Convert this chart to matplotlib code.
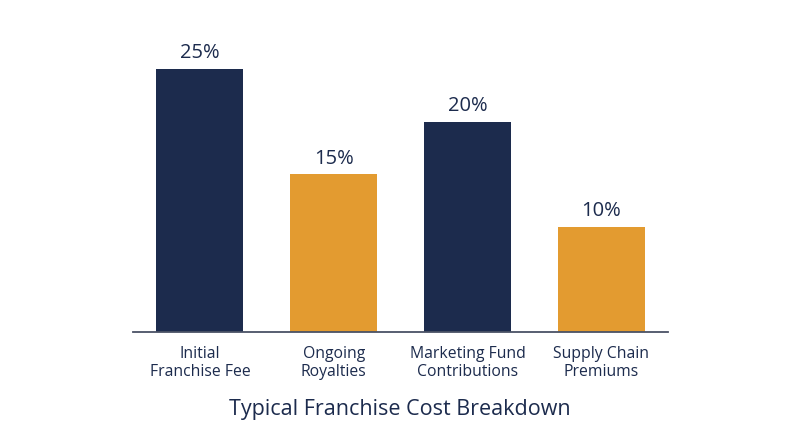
import matplotlib
matplotlib.use("Agg")
import matplotlib.pyplot as plt

categories = ["Initial\nFranchise Fee", "Ongoing\nRoyalties", "Marketing Fund\nContributions", "Supply Chain\nPremiums"]
values = [25, 15, 20, 10]
value_labels = ["25%", "15%", "20%", "10%"]
colors = ["#1c2b4d", "#e39b30", "#1c2b4d", "#e39b30"]

plt.rcParams['font.family'] = ['Open Sans', 'DejaVu Sans']
text_color = "#1c2b4d"

fig = plt.figure(figsize=(8, 4.47), dpi=100)
ax = fig.add_axes([133/800, 1 - 332/447, 535/800, (332 - 30)/447])

x = list(range(len(categories)))
ax.bar(x, values, width=0.65, color=colors)
ax.set_xlim(-0.5, len(categories) - 0.5)
ax.set_ylim(0, (332 - 30) / 10.52)

for xi, v, lab in zip(x, values, value_labels):
    ax.annotate(lab, (xi, v), xytext=(0, 4), textcoords="offset points",
                ha="center", va="bottom", fontsize=14.5, color=text_color)

ax.set_xticks(x)
ax.set_xticklabels(categories, fontsize=11.3, color=text_color, linespacing=1.15)
ax.tick_params(axis="x", length=0, pad=10)
ax.set_yticks([])
for s in ["top", "right", "left"]:
    ax.spines[s].set_visible(False)
ax.spines["bottom"].set_color("#4a5266")
ax.spines["bottom"].set_linewidth(1.3)

fig.text(0.5, 1 - 410/447, "Typical Franchise Cost Breakdown", ha="center", va="center",
         fontsize=15.5, color=text_color)

fig.savefig("out.png", dpi=100, facecolor="white")
